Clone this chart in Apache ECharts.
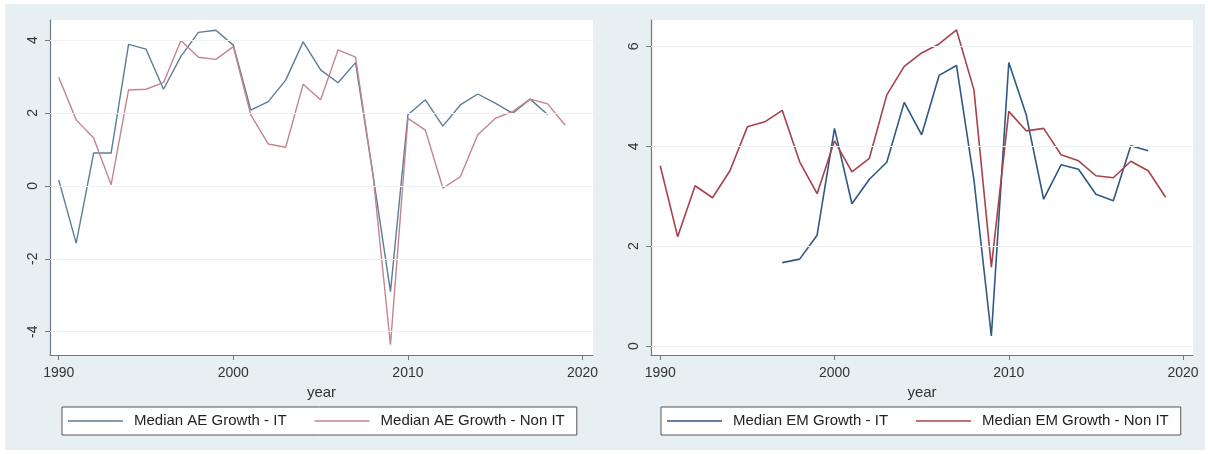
<!DOCTYPE html>
<html>
<head>
<meta charset="utf-8">
<style>
  html, body { margin: 0; padding: 0; background: #ffffff; }
  #chart { width: 1208px; height: 454px; }
</style>
<script src="https://cdn.jsdelivr.net/npm/echarts@6/dist/echarts.min.js"></script>
</head>
<body>
<div id="chart"></div>
<script>
// Years covered by both panels
const years = [1990, 1991, 1992, 1993, 1994, 1995, 1996, 1997, 1998, 1999,
               2000, 2001, 2002, 2003, 2004, 2005, 2006, 2007, 2008, 2009,
               2010, 2011, 2012, 2013, 2014, 2015, 2016, 2017, 2018, 2019];

// Advanced economies: median growth, inflation targeters vs non-targeters
const aeIT = [0.16, -1.57, 0.9, 0.9, 3.88, 3.75, 2.65, 3.55, 4.21, 4.27,
              3.86, 2.08, 2.31, 2.9, 3.95, 3.18, 2.83, 3.38, 0.3, -2.9,
              1.95, 2.36, 1.64, 2.22, 2.52, 2.27, 1.99, 2.38, 1.96, null];
const aeNonIT = [2.98, 1.81, 1.31, 0.03, 2.63, 2.65, 2.83, 3.99, 3.53, 3.47,
                 3.82, 1.95, 1.15, 1.06, 2.79, 2.36, 3.73, 3.53, 0.3, -4.36,
                 1.85, 1.53, -0.06, 0.25, 1.4, 1.85, 2.04, 2.38, 2.25, 1.67];

// Emerging markets: median growth, inflation targeters vs non-targeters
const emIT = [null, null, null, null, null, null, null, 1.67, 1.74, 2.22,
              4.36, 2.85, 3.34, 3.68, 4.88, 4.23, 5.42, 5.62, 3.33, 0.2,
              5.68, 4.63, 2.94, 3.63, 3.54, 3.04, 2.91, 4.01, 3.91, null];
const emNonIT = [3.61, 2.19, 3.21, 2.97, 3.51, 4.39, 4.49, 4.72, 3.69, 3.05,
                 4.11, 3.49, 3.76, 5.03, 5.6, 5.87, 6.05, 6.33, 5.13, 1.58,
                 4.7, 4.31, 4.36, 3.83, 3.71, 3.41, 3.37, 3.7, 3.51, 2.98];

// Tick labels
const yearTicks = [1990, 2000, 2010, 2020];
const aeTicks = [-4, -2, 0, 2, 4];
const emTicks = [0, 2, 4, 6];

// Series names
const names = {
  aeIT: 'Median AE Growth - IT',
  aeNonIT: 'Median AE Growth - Non IT',
  emIT: 'Median EM Growth - IT',
  emNonIT: 'Median EM Growth - Non IT'
};

const FONT = '"Liberation Sans", Arial, sans-serif';
const pairs = (vals) => years.map((y, i) => [y, vals[i]]).filter(p => p[1] !== null);
const plain = (v) => String(v);

function xAxisFor(gridIndex, min, max) {
  return {
    gridIndex, type: 'value', min, max,
    name: 'year', nameLocation: 'middle', nameGap: 26,
    nameTextStyle: { fontFamily: FONT, fontSize: 15, color: '#333' },
    axisLine: { show: true, onZero: false, lineStyle: { color: '#6f7a80', width: 1.2 } },
    axisTick: { show: true, length: 5, customValues: yearTicks, lineStyle: { color: '#6f7a80' } },
    axisLabel: { customValues: yearTicks, formatter: plain, margin: 11, fontFamily: FONT, fontSize: 14, color: '#333' },
    splitLine: { show: false }
  };
}
function yAxisFor(gridIndex, min, max, ticks) {
  return {
    gridIndex, type: 'value', min, max,
    axisLine: { show: true, onZero: false, lineStyle: { color: '#6f7a80', width: 1.2 } },
    axisTick: { show: true, length: 5, customValues: ticks, lineStyle: { color: '#6f7a80' } },
    axisLabel: { customValues: ticks, formatter: plain, rotate: 90, margin: 10, fontFamily: FONT, fontSize: 14, color: '#333' },
    splitLine: { show: false }
  };
}
function gridLines(ticks) {
  return {
    silent: true, symbol: ['none', 'none'], label: { show: false },
    lineStyle: { color: '#edf1f3', width: 1, type: 'solid' },
    data: ticks.map(v => ({ yAxis: v }))
  };
}
function lineSeries(name, vals, xi, color, width, marks) {
  const s = {
    name, type: 'line', xAxisIndex: xi, yAxisIndex: xi,
    data: pairs(vals), showSymbol: false, symbol: 'none',
    lineStyle: { color, width }, itemStyle: { color },
    z: 3
  };
  if (marks) s.markLine = marks;
  return s;
}
function legendFor(left, data, gap) {
  return {
    left, top: 407, orient: 'horizontal', data,
    icon: 'rect', itemWidth: 55, itemHeight: 1.6, itemGap: gap,
    padding: [6, 12, 6, 6],
    backgroundColor: '#ffffff', borderColor: '#555', borderWidth: 1, borderRadius: 0,
    textStyle: { fontFamily: FONT, fontSize: 15, color: '#222', padding: [0, 0, 0, 6], lineHeight: 16 }
  };
}

const chart = echarts.init(document.getElementById('chart'), null, { renderer: 'canvas' });
chart.setOption({
  animation: false,
  backgroundColor: '#ffffff',
  graphic: [{
    type: 'rect', z: -10, silent: true,
    shape: { x: 5, y: 4, width: 1200, height: 446 },
    style: { fill: '#e8eff2' }
  }],
  grid: [
    { left: 50, top: 20, width: 543, height: 335, show: true, backgroundColor: '#ffffff', borderWidth: 0 },
    { left: 651, top: 20, width: 542, height: 335, show: true, backgroundColor: '#ffffff', borderWidth: 0 }
  ],
  xAxis: [xAxisFor(0, 1989.5, 2020.6), xAxisFor(1, 1989.47, 2020.57)],
  yAxis: [yAxisFor(0, -4.64, 4.55, aeTicks), yAxisFor(1, -0.18, 6.53, emTicks)],
  legend: [
    legendFor(62, [names.aeIT, names.aeNonIT], 28),
    legendFor(661, [names.emIT, names.emNonIT], 28)
  ],
  series: [
    lineSeries(names.aeIT, aeIT, 0, '#5d7d94', 1.4, gridLines(aeTicks)),
    lineSeries(names.aeNonIT, aeNonIT, 0, '#c4848d', 1.4),
    lineSeries(names.emIT, emIT, 1, '#2f5885', 1.6, gridLines(emTicks)),
    lineSeries(names.emNonIT, emNonIT, 1, '#a8424a', 1.6)
  ]
});
</script>
</body>
</html>
